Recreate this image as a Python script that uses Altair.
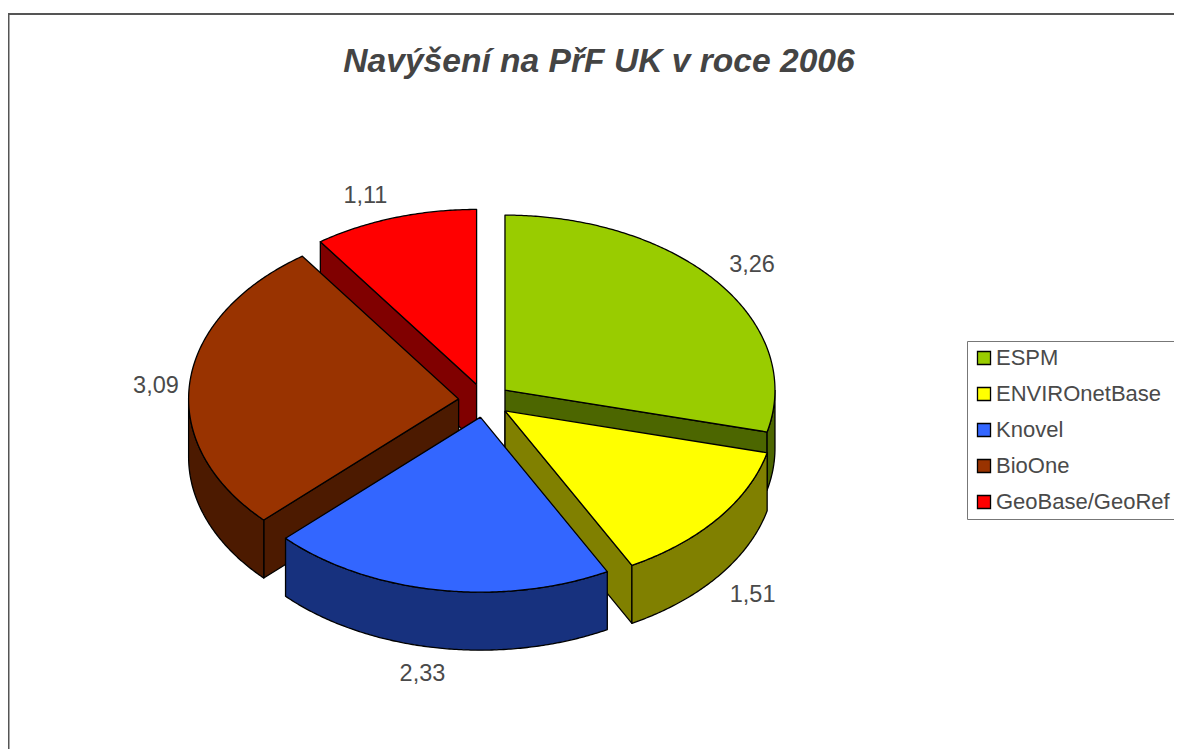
import math
import altair as alt
import pandas as pd

labels = ["ESPM", "ENVIROnetBase", "Knovel", "BioOne", "GeoBase/GeoRef"]
values = [3.26, 1.51, 2.33, 3.09, 1.11]
value_text = ["3,26", "1,51", "2,33", "3,09", "1,11"]
colors = ["#99CC00", "#FFFF00", "#3366FF", "#993300", "#FF0000"]
side_colors = ["#4C6600", "#808000", "#17317E", "#4C1A00", "#800000"]
draw_order = [4, 0, 3, 1, 2]
label_nudges = [(3, 1), (3, 0), (-9, -4), (6, 6), (-17, 7)]

# projection of the tilted, exploded pie
W, H = 1166, 741
CX, CY = 484.5, 400.5
A, B = 270.0, 175.0
EXPLODE, DEPTH = 26.0, 58.0


def rim(c, deg, drop=0.0):
    t = math.radians(deg)
    return c[0] + A * math.sin(t), c[1] - B * math.cos(t) + drop


total = sum(values)
spans, start = [], 0.0
for v in values:
    spans.append((start, start + v / total * 360))
    start += v / total * 360

polys = []


def add(points, fill):
    polys.append((pd.DataFrame({
        "x": [p[0] for p in points],
        "y": [p[1] for p in points],
        "i": range(len(points)),
    }), fill))


text_rows = []
centres = {}
for k in range(len(values)):
    s, e = spans[k]
    m = math.radians((s + e) / 2)
    c = (CX + EXPLODE * math.sin(m), CY - EXPLODE * (B / A) * math.cos(m))
    centres[k] = c
    lx = c[0] + (A + 40) * math.sin(m) + label_nudges[k][0]
    front = DEPTH if math.cos(m) < 0 else 0
    ly = c[1] - (B + 30) * math.cos(m) + front + label_nudges[k][1]
    text_rows.append({"x": lx, "y": ly, "t": value_text[k]})

for k in draw_order:
    s, e = spans[k]
    c = centres[k]
    # radial walls facing the viewer
    if -math.cos(math.radians(s - 90)) > 0:
        r = rim(c, s)
        add([c, r, (r[0], r[1] + DEPTH), (c[0], c[1] + DEPTH), c], side_colors[k])
    if -math.cos(math.radians(e + 90)) > 0:
        r = rim(c, e)
        add([c, r, (r[0], r[1] + DEPTH), (c[0], c[1] + DEPTH), c], side_colors[k])
    # outer wall
    lo, hi = max(s, 90), min(e, 270)
    if hi > lo:
        n = max(2, int((hi - lo) * 2))
        angs = [lo + (hi - lo) * j / n for j in range(n + 1)]
        pts = [rim(c, a) for a in angs] + [rim(c, a, DEPTH) for a in reversed(angs)]
        add(pts + [pts[0]], side_colors[k])
    # top face
    n = max(2, int((e - s) * 2))
    pts = [c] + [rim(c, s + (e - s) * j / n) for j in range(n + 1)] + [c]
    add(pts, colors[k])

xs = alt.Scale(domain=[8, 8 + W], range=[0, W], nice=False, zero=False)
ys = alt.Scale(domain=[8, 8 + H], range=[0, H], nice=False, zero=False)
X = alt.X("x:Q", scale=xs, axis=None)
Y = alt.Y("y:Q", scale=ys, axis=None)

layers = []
# chart frame
frame = pd.DataFrame({"x": [8.5, 8.5, 8 + W], "y": [8 + H, 14, 14], "i": [0, 1, 2]})
layers.append(alt.Chart(frame).mark_line(color="#555555", strokeWidth=2).encode(x=X, y=Y, order="i:Q"))

for df, fill in polys:
    layers.append(
        alt.Chart(df).mark_line(fill=fill, stroke="black", strokeWidth=1.3, strokeJoin="round")
        .encode(x=X, y=Y, order="i:Q")
    )

layers.append(
    alt.Chart(pd.DataFrame(text_rows))
    .mark_text(font="Liberation Sans", fontSize=23.5, color="#4A4A4A")
    .encode(x=X, y=Y, text="t:N")
)

# legend driven by the series table, with markers hidden under the slices
legend_df = pd.DataFrame({
    "name": labels,
    "x": [centres[k][0] for k in range(5)],
    "y": [centres[k][1] + 5 for k in range(5)],
})
legend_layer = alt.Chart(legend_df).mark_square(size=1, opacity=0).encode(
    x=X, y=Y,
    color=alt.Color(
        "name:N",
        sort=labels,
        scale=alt.Scale(domain=labels, range=colors),
        legend=alt.Legend(
            title=None, orient="none", legendX=959, legendY=333,
            symbolType="square", symbolSize=170, symbolStrokeColor="black",
            symbolStrokeWidth=1.3, symbolOpacity=1, labelFont="Liberation Sans",
            labelFontSize=22, labelColor="#4A4A4A", rowPadding=14, padding=6,
            symbolOffset=0, strokeColor="#777777", fillColor="white",
            labelLimit=300, labelOffset=1,
        ),
    ),
)
layers.append(legend_layer)

chart = (
    alt.layer(*layers)
    .properties(
        width=W, height=H, padding=0,
        autosize=alt.AutoSizeParams(type="none"),
        title=alt.TitleParams(
            "Navýšení na PřF UK v roce 2006", font="Liberation Sans", fontSize=33.6,
            fontStyle="italic", fontWeight="bold", color="#444444",
            anchor="middle", dx=8, dy=71, offset=0,
        ),
    )
    .configure_view(stroke=None)
)
chart.save("out.html", embed_options={"renderer": "svg", "actions": False})
